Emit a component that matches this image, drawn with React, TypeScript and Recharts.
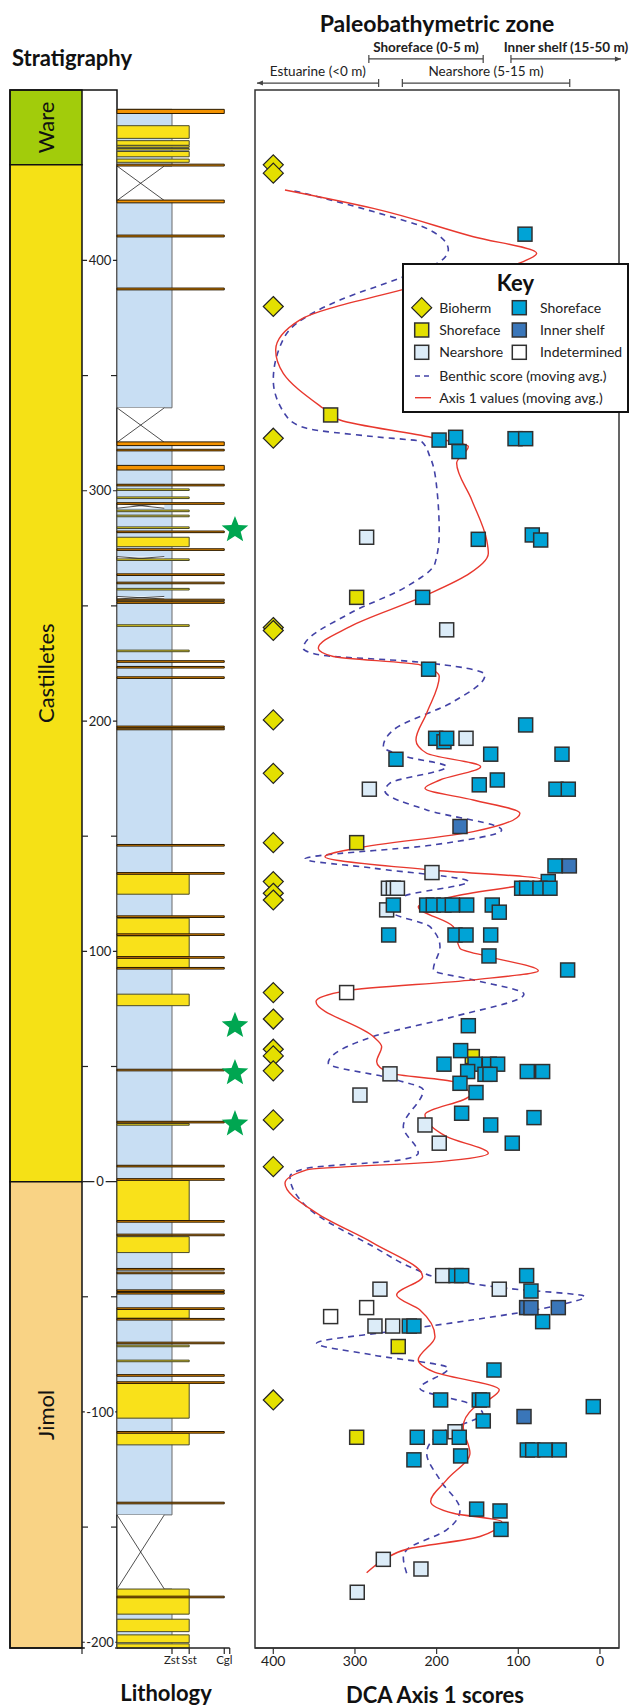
import React from 'react';
import {
  ComposedChart,
  Scatter,
  Line,
  XAxis,
  YAxis,
  ReferenceArea,
  ReferenceLine,
} from 'recharts';

const FONT = 'Lato, "Open Sans", sans-serif';

// shared vertical scale (stratigraphic height, m)
const Y_MIN = -202.5;
const Y_MAX = 474;
const DEPTH_TICKS = [-200, -150, -100, -50, 0, 50, 100, 150, 200, 250, 300, 350, 400];

// DCA axis 1 (reversed)
const X_MIN = -23.3;
const X_MAX = 422.4;
const DCA_TICKS = [0, 100, 200, 300, 400];

// formations
const FORMATIONS = ['Ware', 'Castilletes', 'Jimol'];
const FORMATION_TOP = [474, 441.5, 0];
const FORMATION_BASE = [441.5, 0, -202.5];
const FORMATION_COLORS = ['#a2cc0b', '#f5e116', '#f9d385'];

// lithology (grain scale units)
const GRAIN_ZST = 4;
const GRAIN_SST = 5.25;
const GRAIN_CGL = 7.8;
const GRAIN_END = 8.2;
const GRAIN_TICKS = [GRAIN_ZST, GRAIN_SST, GRAIN_CGL, GRAIN_END];
const COVER_WIDTH = 3.44;
const STAR_X = 8.58;

const MUD_INTERVALS: [number, number][] = [
  [465.6, 441], [426, 336], [321, -144.7], [-176.9, -202.5],
];
const COVERED: [number, number][] = [
  [441, 426], [336, 321], [294.6, 292.4], [271.4, 269.9], [254.1, 253], [-144.7, -176.9],
];
const SST_BEDS: [number, number][] = [
  [458.5, 453], [452, 450], [449.8, 449.1], [448.6, 447.9], [447.3, 445], [444, 442.6],
  [300.8, 300.1], [297.3, 296.6], [291.6, 290.9], [289.4, 288.7], [284.3, 283.6],
  [279.8, 275.7], [270.4, 269.7], [257.6, 256.9], [241.8, 241.1], [230.8, 230.1],
  [133.5, 124.8], [114.4, 107.3], [106.7, 97.6], [96.9, 92.9], [81.4, 76.4], [25.2, 24.5],
  [0.6, -16.9], [-23.9, -30.8], [-55.5, -59.3], [-71, -71.7], [-77.5, -78.2],
  [-87.6, -102.7], [-109.2, -114.3],
  [-176.9, -187.8], [-190, -195.4], [-196.8, -200.2], [-200.7, -202.5],
];
const CGL_BEDS: [number, number][] = [
  [465.6, 463.8], [441.8, 441], [426.2, 425], [411, 410.2], [388, 387.2],
  [321.2, 319.6], [318, 317.3], [311, 309],
  [302.8, 302.1], [294.8, 294.1], [282.5, 281.8], [274.8, 274.1], [263.9, 263.2],
  [260.3, 259.6], [252.9, 252.2], [251.8, 251.1],
  [226.2, 225.5], [223.7, 223], [219.2, 218.5], [197.8, 197.1], [196.9, 196.2], [146.4, 145.7],
  [134.2, 133.5], [115.4, 114.7], [107.6, 106.9], [97.7, 97], [93, 92.3],
  [48.8, 48.1], [26.2, 25.5], [7.1, 6.4], [1.3, 0.6],
  [-16.9, -17.6], [-22.8, -23.5], [-37.7, -38.4], [-39.3, -40], [-47, -47.7], [-48.1, -48.8],
  [-54.8, -55.5], [-59.4, -60.1], [-69.7, -70.4], [-83.8, -84.5], [-86.9, -87.6],
  [-108.5, -109.2], [-139.2, -139.9], [-180, -180.7],
];
const STAR_HEIGHTS = [283, 67.7, 47.2, 25];

// paleobathymetric zones (DCA units)
const ZONE_NAMES = ['Estuarine (<0 m)', 'Nearshore (5-15 m)', 'Shoreface (0-5 m)', 'Inner shelf (15-50 m)'];
const ZONE_FROM = [420, 242, 283, 109];
const ZONE_TO = [271, 37, 143, -25.7];
const ZONE_ROW = [477, 477, 487.5, 487.5];
const ZONE_ARROW = ['left', 'none', 'none', 'right'];
const ZONE_BOLD = [false, false, true, true];

// samples: [DCA axis 1, height]
const BIOHERM: [number, number][] = [
  [400, 441.5], [400, 437.9], [400, 380], [400, 322.8], [400, 240.6], [400, 239.3],
  [400, 200.5], [400, 177.3], [400, 147.2], [400, 130.3], [400, 125.2], [400, 122.3],
  [400, 82.1], [400, 70.6], [400, 57.5], [400, 54.6], [400, 48.1], [400, 26.8],
  [400, 6.5], [400, -94.8],
];
const SHOREFACE_YELLOW: [number, number][] = [
  [329.8, 332.9], [297.9, 253.7], [297.9, 147.2], [156.3, 54.3], [247, -71.6], [297.9, -111],
];
const NEARSHORE: [number, number][] = [
  [285.7, 279.8], [187.7, 239.6], [164, 192.5], [282.4, 170.4], [205.7, 134.2],
  [259, 127.4], [253, 127.4], [248, 127.4], [261.2, 118],
  [257.1, 46.8], [293.9, 37.6], [214.3, 24.6], [196.8, 16.7],
  [192.6, -40.8], [269.4, -46.7], [123.3, -46.7], [275.5, -62.7], [253.8, -62.7],
  [177.5, -108.6], [265.3, -164], [219.2, -168.2], [297.2, -178.3],
];
const INDETERMINED: [number, number][] = [
  [310.2, 82.1], [285.7, -54.7], [329.8, -58.6],
];
const SHOREFACE_BLUE: [number, number][] = [
  [91.8, 411.4],
  [197, 322], [176.7, 323.2], [172.6, 317], [104, 322.6], [91, 322.6],
  [149, 278.9], [82.9, 280.8], [72.6, 278.6],
  [217.1, 253.7], [209.8, 222.5], [91, 198.3],
  [201.2, 192.5], [191, 191], [187.7, 192.5],
  [249.8, 183.4], [133.8, 185.6], [46.5, 185.6],
  [147.8, 172.3], [125.7, 174.4], [53.9, 170.4], [38.8, 170.4],
  [55.1, 137.1], [63.3, 130.3],
  [95.9, 127.4], [89.8, 127.4], [73.5, 127.4], [61.2, 127.4],
  [253, 120.1], [212.2, 120.1], [204.1, 120.1], [191, 120.1], [180.8, 120.1],
  [163.2, 120.1], [131.9, 120.1], [123.3, 117],
  [258.7, 107.1], [177.5, 107.1], [164, 107.1], [133.8, 107.1],
  [135.9, 98], [39.6, 91.9], [161.2, 67.7], [170.6, 56.9],
  [191, 51], [153, 51], [135.5, 51], [125.3, 51],
  [162, 47.8], [140.8, 46.6], [134.7, 46.6], [89, 47.8], [70.2, 47.8],
  [171.4, 42.7], [151.8, 38.7], [169.4, 29.7], [80.8, 27.8], [133.8, 24.6], [107.4, 16.7],
  [176.3, -40.8], [169.3, -40.8], [89.8, -40.8], [84.5, -47.5], [70.2, -60.8],
  [233.5, -62.7], [227.8, -62.7], [129.8, -81.8],
  [195.1, -94.8], [147.8, -94.8], [143.6, -94.8], [8.2, -97.7], [142.9, -103.9],
  [223.7, -111], [195.9, -111], [172.3, -111],
  [89, -116.5], [82.4, -116.5], [67.3, -116.5], [49.8, -116.5],
  [227.8, -120.8], [170.6, -119.1],
  [151, -142.2], [122.4, -143], [121.2, -151],
];
const INNER_SHELF: [number, number][] = [
  [171.4, 154.2], [37.5, 137.1], [89.8, -54.7], [84.5, -54.7], [51, -54.7], [93, -102],
];

// moving averages: [DCA axis 1, height]
const AXIS1_AVG: [number, number][] = [
  [385.7, 430.6], [277.6, 422.6], [155, 410.3], [77.5, 403.1], [93.9, 399.5],
  [242.8, 387.2], [367.3, 374.2], [397.1, 361.1], [387.8, 351], [338.8, 335.8],
  [318.4, 330.7], [206.1, 323.1], [161.2, 319.2], [175.5, 312], [157, 296],
  [138.7, 278.6], [136.7, 272.9], [159.2, 264.2], [217.1, 254], [306.1, 241],
  [344.9, 231.6], [326.6, 228], [220.4, 224.4], [196.8, 219.3], [212.2, 203.4],
  [225.3, 191.8], [212.2, 186], [146.1, 180.2], [195.9, 174.4], [214.3, 170.8],
  [155.1, 165.7], [98, 160], [155.1, 152], [297.9, 144.8], [336.7, 141.1],
  [205.7, 135.3], [71.4, 131.3], [179.6, 123.8], [222.5, 119.4], [179.6, 110.7],
  [171.4, 101.3], [136.7, 97.7], [75.5, 91.6], [155.1, 87.6], [310.2, 82.9],
  [347.7, 78.2], [277.6, 63], [267.3, 58.6], [273.4, 52.1], [257.1, 47.1],
  [179.6, 43.4], [159.2, 37.6], [214.3, 29], [187.7, 19.5], [136.7, 12.3],
  [195.9, 8.7], [359.1, 5.1], [385.7, -0.7], [346.9, -13.7], [277.6, -26.7],
  [217.1, -41.2], [249, -49.2], [220.4, -55.7], [202, -67.3], [222.5, -77.4],
  [204.1, -82.5], [123.3, -90.4], [136.7, -94.8], [155.1, -98.4], [167.4, -106.4],
  [159.2, -117.9], [187.7, -129.5], [207.3, -138.9], [179.6, -144], [120.4, -147.6],
  [146.9, -154.1], [236.7, -159.6], [265.3, -164.3], [285.7, -169.8],
];
const BENTHIC_AVG: [number, number][] = [
  [375.5, 430.3], [277.6, 421.2], [208.2, 413.2], [185.7, 404.6], [195.9, 399.5],
  [244.9, 392.3], [318.4, 382.8], [371.4, 372.7], [391.8, 362.6], [400, 348.1],
  [383.6, 332.2], [359.1, 327.1], [277.6, 323.5], [218.3, 321.3], [208.2, 314.8],
  [200, 301.8], [196.8, 281.5], [202, 268.5], [236.7, 258.4], [306.1, 246.8],
  [363.3, 231.6], [342.8, 228.7], [228.6, 225.8], [140.8, 220], [179.6, 208.4],
  [253, 196.1], [265.3, 188.9], [236.7, 184.5], [187.7, 180.2], [257.1, 173],
  [263.3, 169.6], [212.2, 161.4], [120.4, 152.7], [204.1, 146.2], [361.2, 140.1],
  [277.6, 136.1], [161.2, 130.3], [240.8, 123.8], [255, 117.2], [208.2, 110.7],
  [195.9, 102], [204.1, 91.9], [155.1, 87.6], [93.1, 81.4], [179.6, 71.6],
  [277.6, 63], [332.7, 51.4], [257.1, 44.9], [216.4, 39.8], [240.8, 23.9],
  [222.5, 12.3], [244.9, 9.4], [359.1, 5.8], [379.6, 2.2], [359.1, -10.9],
  [277.6, -28.2], [224.4, -38.3], [195.9, -42], [114.3, -46.3], [18.4, -49.9],
  [49, -53.5], [155.1, -60], [257.1, -65.1], [346.9, -70.2], [277.6, -75.3],
  [185.7, -81], [220.4, -89.7], [155.1, -97], [143.6, -100.6], [195.9, -109.3],
  [212.2, -117.9], [195.9, -129.5], [171.4, -142.6], [187.7, -151.2], [236.7, -159.9],
  [240.8, -163], [236.7, -170],
];

const toPoints = (arr: [number, number][]) => arr.map(([x, y]) => ({ x, y }));
const toCurve = (arr: [number, number][]) => toPoints(arr).sort((a, b) => a.y - b.y);

const COLORS = {
  yellow: '#e4e000',
  blue: '#00a3d6',
  inner: '#3a76b9',
  near: '#dcecf8',
  white: '#ffffff',
  red: '#e8382e',
  benthic: '#4242a6',
  mud: '#c8def3',
  sst: '#f9e11a',
  cgl: '#f39200',
  star: '#00a651',
};

const squareShape = (fill: string) => (p: any) => (
  <rect x={p.cx - 7} y={p.cy - 7} width={14} height={14} fill={fill} stroke="#303030" strokeWidth={1.5} />
);

const DiamondShape = (p: any) => (
  <polygon
    points={`${p.cx},${p.cy - 10} ${p.cx + 10},${p.cy} ${p.cx},${p.cy + 10} ${p.cx - 10},${p.cy}`}
    fill={COLORS.yellow}
    stroke="#222"
    strokeWidth={1.2}
  />
);

const StarShape = (p: any) => {
  const pts: string[] = [];
  for (let k = 0; k < 10; k++) {
    const r = k % 2 === 0 ? 14 : 6;
    const a = -Math.PI / 2 + (k * Math.PI) / 5;
    pts.push(`${p.cx + r * Math.cos(a)},${p.cy + r * Math.sin(a)}`);
  }
  return <polygon points={pts.join(' ')} fill={COLORS.star} />;
};

const CoverShape = (p: any) => (
  <g>
    <rect x={p.x} y={p.y} width={p.width} height={p.height} fill="#fff" />
    <line x1={p.x} y1={p.y} x2={p.x} y2={p.y + p.height} stroke="#222" strokeWidth={1} />
    <line x1={p.x} y1={p.y} x2={p.x + p.width} y2={p.y + p.height} stroke="#222" strokeWidth={0.8} />
    <line x1={p.x} y1={p.y + p.height} x2={p.x + p.width} y2={p.y} stroke="#222" strokeWidth={0.8} />
  </g>
);

const DepthTick = (props: any) => {
  const { y, payload } = props;
  const v = payload.value;
  const label = String(v);
  if (v % 100 !== 0) {
    return (
      <g>
        <line x1={0} x2={6} y1={y} y2={y} stroke="#222" strokeWidth={1.2} />
        <line x1={29} x2={35} y1={y} y2={y} stroke="#222" strokeWidth={1.2} />
      </g>
    );
  }
  const w = label.replace('-', '').length * 7.3 + (v < 0 ? 4.5 : 0) + 4;
  return (
    <g>
      <line x1={0} x2={35} y1={y} y2={y} stroke="#222" strokeWidth={1.2} />
      <rect x={18 - w / 2} y={y - 8} width={w} height={16} fill="#fff" />
      <text x={18} y={y} dy={4.6} textAnchor="middle" fontSize={13} fill="#222" fontFamily={FONT}>
        {label}
      </text>
    </g>
  );
};

const grainLabel = (v: number) =>
  v === GRAIN_ZST ? 'Zst' : v === GRAIN_SST ? 'Sst' : v === GRAIN_CGL ? 'Cgl' : '';

const zoneShape = (i: number) => (p: any) => {
  const left = Math.min(p.x1, p.x2);
  const right = Math.max(p.x1, p.x2);
  const y = p.y1;
  const stroke = '#444';
  return (
    <g>
      <line x1={left} x2={right} y1={y} y2={y} stroke={stroke} strokeWidth={1.2} />
      {ZONE_ARROW[i] === 'left' ? (
        <polygon points={`${left},${y} ${left + 6},${y - 2.5} ${left + 6},${y + 2.5}`} fill={stroke} />
      ) : (
        <line x1={left} x2={left} y1={y - 4} y2={y + 4} stroke={stroke} strokeWidth={1.2} />
      )}
      {ZONE_ARROW[i] === 'right' ? (
        <polygon points={`${right},${y} ${right - 6},${y - 2.5} ${right - 6},${y + 2.5}`} fill={stroke} />
      ) : (
        <line x1={right} x2={right} y1={y - 4} y2={y + 4} stroke={stroke} strokeWidth={1.2} />
      )}
      <text
        x={(left + right) / 2}
        y={y - 7}
        textAnchor="middle"
        fontSize={13.5}
        fontWeight={ZONE_BOLD[i] ? 700 : 400}
        fill="#222"
        fontFamily={FONT}
      >
        {ZONE_NAMES[i]}
      </text>
    </g>
  );
};

const Title = ({ x, y, size, children }: any) => (
  <div
    style={{
      position: 'absolute',
      left: x,
      top: y,
      transform: 'translate(-50%, -50%)',
      fontFamily: FONT,
      fontWeight: 700,
      fontSize: size,
      color: '#111',
      whiteSpace: 'nowrap',
      lineHeight: 1,
    }}
  >
    {children}
  </div>
);

const Key = () => {
  const rows = [44.7, 67, 89.3, 113, 134.7];
  const txt = (x: number, y: number, s: string) => (
    <text x={x} y={y + 5} fontSize={14} fill="#222" fontFamily={FONT}>{s}</text>
  );
  const sq = (cx: number, cy: number, fill: string) => (
    <rect x={cx - 7} y={cy - 7} width={14} height={14} fill={fill} stroke="#303030" strokeWidth={1.5} />
  );
  return (
    <svg width={227} height={150} style={{ position: 'absolute', left: 402, top: 263 }}>
      <rect x={1} y={1} width={225} height={148} fill="#fff" stroke="#111" strokeWidth={2} />
      <text x={113.5} y={28} textAnchor="middle" fontSize={22} fontWeight={700} fill="#111" fontFamily={FONT}>Key</text>
      <polygon points={`19.7,${rows[0] - 10} 29.7,${rows[0]} 19.7,${rows[0] + 10} 9.7,${rows[0]}`} fill={COLORS.yellow} stroke="#222" strokeWidth={1.2} />
      {txt(37.3, rows[0], 'Bioherm')}
      {sq(117.3, rows[0], COLORS.blue)}
      {txt(138, rows[0], 'Shoreface')}
      {sq(19.7, rows[1], COLORS.yellow)}
      {txt(37.3, rows[1], 'Shoreface')}
      {sq(117.3, rows[1], COLORS.inner)}
      {txt(138, rows[1], 'Inner shelf')}
      {sq(19.7, rows[2], COLORS.near)}
      {txt(37.3, rows[2], 'Nearshore')}
      {sq(117.3, rows[2], COLORS.white)}
      {txt(138, rows[2], 'Indetermined')}
      <line x1={13} x2={29} y1={rows[3]} y2={rows[3]} stroke={COLORS.benthic} strokeWidth={1.6} strokeDasharray="5 4" />
      {txt(37.3, rows[3], 'Benthic score (moving avg.)')}
      <line x1={13} x2={29} y1={rows[4]} y2={rows[4]} stroke={COLORS.red} strokeWidth={1.4} />
      {txt(37.3, rows[4], 'Axis 1 values (moving avg.)')}
    </svg>
  );
};

export default function App() {
  return (
    <div style={{ position: 'absolute', left: 0, top: 0, width: 630, height: 1707, background: '#fff', overflow: 'hidden' }}>
      {/* stratigraphy column */}
      <div style={{ position: 'absolute', left: 0, top: 0 }}>
        <ComposedChart width={130} height={1707} margin={{ top: 90, right: 13, bottom: 59, left: 10 }}>
          <XAxis type="number" dataKey="x" domain={[0, 107]} hide allowDataOverflow />
          <YAxis type="number" dataKey="y" domain={[Y_MIN, Y_MAX]} hide allowDataOverflow />
          {FORMATIONS.map((name, i) => (
            <ReferenceArea
              key={name}
              x1={0}
              x2={72}
              y1={FORMATION_BASE[i]}
              y2={FORMATION_TOP[i]}
              fill={FORMATION_COLORS[i]}
              fillOpacity={1}
              stroke="#111"
              strokeWidth={1.5}
              label={{ value: name, angle: -90, position: 'center', fontSize: 22, fill: '#111', fontFamily: FONT }}
            />
          ))}
          <ReferenceArea x1={0} x2={107} y1={Y_MIN} y2={Y_MAX} fill="none" fillOpacity={0} stroke="#111" strokeWidth={1.5} />
          <ReferenceLine segment={[{ x: 72, y: Y_MIN }, { x: 72, y: Y_MIN - 2.6 }]} stroke="#222" strokeWidth={1.2} ifOverflow="visible" />
        </ComposedChart>
      </div>

      {/* lithology column */}
      <div style={{ position: 'absolute', left: 82, top: 0 }}>
        <ComposedChart width={180} height={1707} margin={{ top: 90, right: 7.5, bottom: 19, left: 0 }}>
          <XAxis
            type="number"
            dataKey="x"
            domain={[0, 10]}
            ticks={GRAIN_TICKS}
            interval={0}
            tickFormatter={grainLabel}
            axisLine={false}
            tickLine={{ stroke: '#222', strokeWidth: 1.2 }}
            tickSize={6}
            height={40}
            tick={{ fontSize: 11.5, fill: '#222', fontFamily: FONT }}
            allowDataOverflow
          />
          <YAxis
            type="number"
            dataKey="y"
            domain={[Y_MIN, Y_MAX]}
            ticks={DEPTH_TICKS}
            interval={0}
            width={35}
            axisLine={false}
            tickLine={false}
            tick={DepthTick}
            allowDataOverflow
          />
          {MUD_INTERVALS.map(([top, base]) => (
            <ReferenceArea key={`m${top}`} x1={0} x2={GRAIN_ZST} y1={base} y2={top} fill={COLORS.mud} fillOpacity={1} stroke="#6a6a6a" strokeWidth={1} />
          ))}
          {COVERED.map(([top, base]) => (
            <ReferenceArea key={`c${top}`} x1={0} x2={COVER_WIDTH} y1={base} y2={top} shape={CoverShape} />
          ))}
          {SST_BEDS.map(([top, base]) => (
            <ReferenceArea key={`s${top}`} x1={0} x2={GRAIN_SST} y1={base} y2={top} fill={COLORS.sst} fillOpacity={1} stroke="#4a4a2a" strokeWidth={1} />
          ))}
          {CGL_BEDS.map(([top, base]) => (
            <ReferenceArea key={`g${top}`} x1={0} x2={GRAIN_CGL} y1={base} y2={top} fill={COLORS.cgl} fillOpacity={1} stroke="#2a1a00" strokeWidth={1} />
          ))}
          <ReferenceLine segment={[{ x: 0, y: Y_MIN }, { x: GRAIN_END, y: Y_MIN }]} stroke="#222" strokeWidth={1.3} ifOverflow="visible" />
          <Scatter data={STAR_HEIGHTS.map((y) => ({ x: STAR_X, y }))} shape={StarShape} isAnimationActive={false} />
        </ComposedChart>
      </div>

      {/* DCA panel */}
      <div style={{ position: 'absolute', left: 230, top: 0 }}>
        <ComposedChart layout="vertical" width={400} height={1707} margin={{ top: 90, right: 11, bottom: 29, left: 25 }}>
          <XAxis
            type="number"
            dataKey="x"
            domain={[X_MIN, X_MAX]}
            reversed
            ticks={DCA_TICKS}
            interval={0}
            height={30}
            tickSize={6}
            axisLine={{ stroke: '#333', strokeWidth: 1.5 }}
            tickLine={{ stroke: '#333', strokeWidth: 1.2 }}
            tick={{ fontSize: 14, fill: '#222', fontFamily: FONT }}
            allowDataOverflow
          />
          <YAxis type="number" dataKey="y" domain={[Y_MIN, Y_MAX]} reversed hide allowDataOverflow />
          <ReferenceArea x1={X_MIN} x2={X_MAX} y1={Y_MIN} y2={Y_MAX} fill="none" fillOpacity={0} stroke="#333" strokeWidth={1.5} />
          {ZONE_NAMES.map((name, i) => (
            <ReferenceLine
              key={name}
              segment={[{ x: ZONE_FROM[i], y: ZONE_ROW[i] }, { x: ZONE_TO[i], y: ZONE_ROW[i] }]}
              ifOverflow="visible"
              shape={zoneShape(i)}
            />
          ))}
          <Line data={toCurve(BENTHIC_AVG)} dataKey="x" type="monotone" stroke={COLORS.benthic} strokeWidth={1.6} strokeDasharray="6 5" dot={false} activeDot={false} isAnimationActive={false} />
          <Line data={toCurve(AXIS1_AVG)} dataKey="x" type="monotone" stroke={COLORS.red} strokeWidth={1.4} dot={false} activeDot={false} isAnimationActive={false} />
          <Scatter data={toPoints(NEARSHORE)} shape={squareShape(COLORS.near)} isAnimationActive={false} />
          <Scatter data={toPoints(INDETERMINED)} shape={squareShape(COLORS.white)} isAnimationActive={false} />
          <Scatter data={toPoints(SHOREFACE_YELLOW)} shape={squareShape(COLORS.yellow)} isAnimationActive={false} />
          <Scatter data={toPoints(SHOREFACE_BLUE)} shape={squareShape(COLORS.blue)} isAnimationActive={false} />
          <Scatter data={toPoints(INNER_SHELF)} shape={squareShape(COLORS.inner)} isAnimationActive={false} />
          <Scatter data={toPoints(BIOHERM)} shape={DiamondShape} isAnimationActive={false} />
        </ComposedChart>
      </div>

      <Key />

      <Title x={72} y={58} size={22}>Stratigraphy</Title>
      <Title x={437} y={23} size={23}>Paleobathymetric zone</Title>
      <Title x={166} y={1693} size={22}>Lithology</Title>
      <Title x={435} y={1695} size={22}>DCA Axis 1 scores</Title>
    </div>
  );
}
